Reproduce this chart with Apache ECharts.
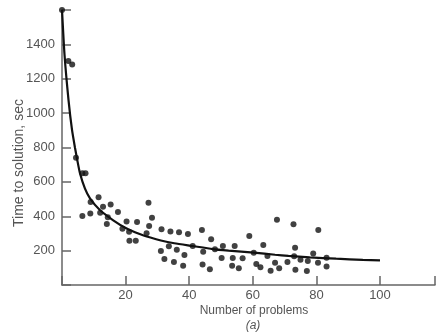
<!DOCTYPE html>
<html>
<head>
<meta charset="utf-8">
<script src="https://cdn.jsdelivr.net/npm/echarts@6/dist/echarts.min.js"></script>
<style>
html,body{margin:0;padding:0;background:#fff;}
#chart{width:438px;height:335px;}
</style>
</head>
<body>
<div id="chart"></div>
<script>
// Observed points: number of problems vs time to solution (sec)
const pointX = [0, 2.0, 3.2, 4.4, 6.4, 7.4, 11.5, 9.0, 6.4, 8.9, 12.9, 15.3, 12.0, 14.4, 14.1, 17.6, 19.0, 20.3, 21.1, 21.2, 23.2, 23.6,
  27.2, 28.3, 27.4, 26.6, 31.3, 34.1, 36.8, 39.6, 44.0, 46.9, 31.1, 33.6, 36.1, 38.5, 41.1, 44.4, 32.2, 35.2, 38.1, 44.2, 46.5,
  48.1, 50.6, 50.2, 54.3, 53.7, 53.5, 55.6, 56.8, 58.9, 60.3, 61.1, 62.4, 63.3, 64.6, 65.6, 67.0, 68.3, 67.6, 70.9,
  72.8, 80.6, 73.3, 73.0, 75.0, 77.3, 79.0, 80.5, 83.2, 83.2, 73.4, 77.0];
const pointY = [1600, 1303, 1283, 741, 650, 650, 510, 483, 401, 416, 456, 468, 420, 394, 355, 425, 327, 370, 310, 257, 257, 366,
  479, 392, 343, 301, 324, 312, 307, 297, 320, 266, 198, 225, 205, 175, 227, 194, 151, 134, 112, 120, 91,
  208, 227, 157, 227, 157, 112, 97, 155, 285, 188, 122, 103, 233, 169, 83, 130, 97, 380, 134,
  353, 320, 217, 168, 147, 139, 183, 129, 158, 107, 89, 82];
// Fitted curve
const curveX = [0, 0.8, 2.05, 3.15, 4.1, 4.8, 5.65, 7.2, 8.8, 11.9, 16, 20.2, 24.2, 27.8, 31.1, 35.3, 41, 47.4, 52.4, 60.3, 67, 71.2, 77.9, 86.2, 94.6, 100];
const curveY = [1600, 1338, 1076, 902, 797, 727, 650, 562, 504, 436, 378, 330, 298, 276, 259, 243, 227, 209, 200, 188, 176, 169, 161, 153, 146, 143];
const xTickLabels = [20, 40, 60, 80, 100];
const yTickLabels = [200, 400, 600, 800, 1000, 1200, 1400];
const xTitle = 'Number of problems';
const yTitle = 'Time to solution, sec';
const subTitle = '(a)';

const FONT = "'Liberation Sans', Arial, sans-serif";
const chart = echarts.init(document.getElementById('chart'), null, {renderer: 'canvas'});
chart.setOption({
  animation: false,
  backgroundColor: '#fff',
  grid: {left: 62, right: 0, top: 10, bottom: 50, containLabel: false},
  xAxis: {
    type: 'value', min: 0, max: 117.3, interval: 20,
    axisLine: {lineStyle: {color: '#666', width: 1.5}},
    axisTick: {inside: true, length: 9, lineStyle: {color: '#666', width: 1.5}},
    splitLine: {show: false},
    axisLabel: {
      fontFamily: FONT, fontSize: 13, color: '#555', margin: 4,
      formatter: v => xTickLabels.includes(v) ? String(v) : ''
    }
  },
  yAxis: {
    type: 'value', min: 0, max: 1600, interval: 200,
    axisLine: {show: true, lineStyle: {color: '#666', width: 1.5}},
    axisTick: {show: true, inside: true, length: 9, lineStyle: {color: '#666', width: 1.5}},
    splitLine: {show: false},
    axisLabel: {
      fontFamily: FONT, fontSize: 13, color: '#555', margin: 7,
      formatter: v => yTickLabels.includes(v) ? String(v) : ''
    }
  },
  series: [
    {
      type: 'line',
      data: curveX.map((x, i) => [x, curveY[i]]),
      showSymbol: false,
      smooth: 0.2,
      lineStyle: {color: '#111', width: 2.2},
      z: 2
    },
    {
      type: 'scatter',
      data: pointX.map((x, i) => [x, pointY[i]]),
      symbol: 'circle',
      symbolSize: 6,
      itemStyle: {color: '#111'},
      z: 3
    }
  ],
  graphic: [
    {type: 'text', x: 19.5, y: 163, rotation: Math.PI / 2,
      style: {text: yTitle, font: "14px " + FONT, fill: '#555', textAlign: 'center', textVerticalAlign: 'middle'}},
    {type: 'text', x: 254, y: 311,
      style: {text: xTitle, font: "12px " + FONT, fill: '#555', textAlign: 'center', textVerticalAlign: 'middle'}},
    {type: 'text', x: 253, y: 326,
      style: {text: subTitle, font: "italic 12px " + FONT, fill: '#555', textAlign: 'center', textVerticalAlign: 'middle'}}
  ]
});
</script>
</body>
</html>
